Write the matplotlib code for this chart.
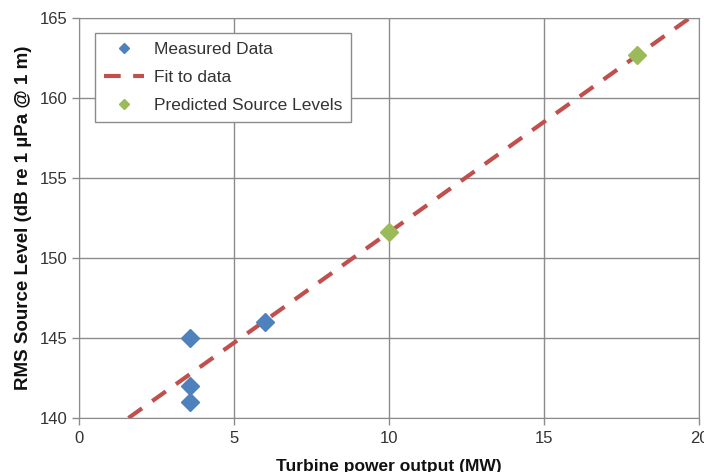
import matplotlib
matplotlib.use("Agg")
import matplotlib.pyplot as plt

plt.rcParams['font.family'] = ['Liberation Sans', 'DejaVu Sans']

# measured data
meas_x = [3.6, 3.6, 3.6, 6.0]
meas_y = [145.0, 142.0, 141.0, 146.0]

# predicted source levels
pred_x = [10.0, 18.0]
pred_y = [151.6, 162.7]

# fit line end points
fit_x = [1.6, 19.7]
fit_y = [140.0, 165.0]

blue = '#4F81BD'
green = '#9BBB59'
red = '#C0504D'
grid_c = '#8C8C8C'
text_c = '#333333'

fig = plt.figure(figsize=(7.04, 4.72), dpi=100)
ax = fig.add_axes([0.112, 0.1144, 0.881, 0.8475])

ax.plot(meas_x, meas_y, 'D', color=blue, markersize=9, linestyle='none',
        label='Measured Data', zorder=3)
ax.plot(fit_x, fit_y, color=red, lw=3, dashes=(4, 3),
        label='Fit to data', zorder=2)
ax.plot(pred_x, pred_y, 'D', color=green, markersize=9, linestyle='none',
        label='Predicted Source Levels', zorder=4)

ax.set_xlim(0, 20)
ax.set_ylim(140, 165)
ax.set_xticks([0, 5, 10, 15, 20])
ax.set_yticks([140, 145, 150, 155, 160, 165])

ax.grid(True, color=grid_c, lw=1)
ax.set_axisbelow(True)
for s in ax.spines.values():
    s.set_color(grid_c)
ax.tick_params(colors=grid_c, labelcolor=text_c, labelsize=12, length=5, width=1)
ax.tick_params(axis='x', pad=4)
ax.tick_params(axis='y', pad=3)

ax.set_xlabel('Turbine power output (MW)', fontsize=12.5, fontweight='bold',
              labelpad=10, color='#111111')
ax.set_ylabel('RMS Source Level (dB re 1 \u00b5Pa @ 1 m)', fontsize=13.5,
              fontweight='bold', labelpad=6, color='#111111')

leg = ax.legend(loc='upper left', bbox_to_anchor=(0.026, 0.9625), borderaxespad=0,
                fontsize=12.5, markerscale=0.6, fancybox=False, framealpha=1,
                edgecolor=grid_c, handlelength=2.3, borderpad=0.5,
                labelspacing=0.75, handletextpad=0.6)
leg.get_frame().set_linewidth(1)
for t in leg.get_texts():
    t.set_color(text_c)

fig.savefig('out.png', dpi=100)
